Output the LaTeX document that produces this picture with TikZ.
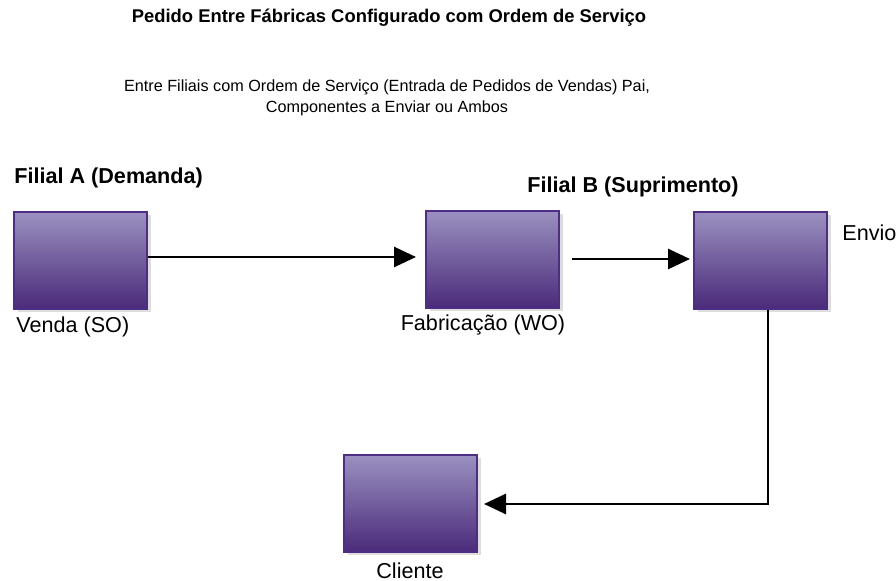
\documentclass[tikz,border=0pt]{standalone}
\usepackage{fontspec}
\setmainfont{Liberation Sans}
\usetikzlibrary{arrows.meta,shadows}
\definecolor{boxtop}{HTML}{9A90C0}
\definecolor{boxbottom}{HTML}{4A2A7A}
\definecolor{boxline}{HTML}{4E2E84}
\definecolor{boxshadow}{HTML}{DDDDDD}
\begin{document}
\begin{tikzpicture}[x=0.5pt,y=-0.5pt,
                        unit/.style={shape=rectangle,draw=boxline,line width=1pt,top color=boxtop,bottom color=boxbottom,minimum width=66.5pt,minimum height=48.5pt,inner sep=0pt,
                                     drop shadow={shadow xshift=2pt,shadow yshift=-1.5pt,fill=boxshadow,opacity=1}},
                        lbl/.style={font=\fontsize{10.8}{13}\selectfont,inner sep=0pt},
                        hdr/.style={font=\fontsize{10.8}{13}\selectfont\bfseries,inner sep=0pt},
                        flow/.style={-{Triangle[length=11pt,width=10pt]},line width=1.4pt}
                        ]
                        \useasboundingbox (0,0) rectangle (896,581);
                        %Titel
                        \node [hdr,font=\fontsize{9.2}{11}\selectfont\bfseries] (title) at (389,18) {Pedido Entre Fábricas Configurado com Ordem de Serviço};
                        \node [lbl,font=\fontsize{8.1}{10.5}\selectfont,align=center] (subtitle) at (387,98) {Entre Filiais com Ordem de Serviço (Entrada de Pedidos de Vendas) Pai,\\Componentes a Enviar ou Ambos};
                        %Filial A
                        \node [hdr,anchor=west] (filialA) at (14,178) {Filial A (Demanda)};
                        \node [unit] (venda) at (80,261) {};
                        \node [lbl,anchor=west] (vendaLbl) at (16,327) {Venda (SO)};
                        %Filial B
                        \node [hdr,anchor=west] (filialB) at (527,187) {Filial B (Suprimento)};
                        \node [unit] (fabric) at (492.5,260) {};
                        \node [lbl] (fabricLbl) at (483,325) {Fabricação (WO)};
                        \node [unit] (envio) at (760.5,261) {};
                        \node [lbl,anchor=west] (envioLbl) at (842,233) {Envio};
                        %Cliente
                        \node [unit] (cliente) at (410.5,504) {};
                        \node [lbl] (clienteLbl) at (410,571) {Cliente};
                        %Verbindungen
                        \draw [flow,shorten >=4.5pt] ([yshift=2pt]venda.east) -- ([yshift=1.5pt]fabric.west);
                        \draw [flow,shorten <=6pt,shorten >=1.5pt] ([yshift=0.5pt]fabric.east) -- ([yshift=1pt]envio.west);
                        \draw [flow,shorten >=3pt] ([xshift=3.75pt]envio.south) |- (cliente.east);
                \end{tikzpicture}
\end{document}
